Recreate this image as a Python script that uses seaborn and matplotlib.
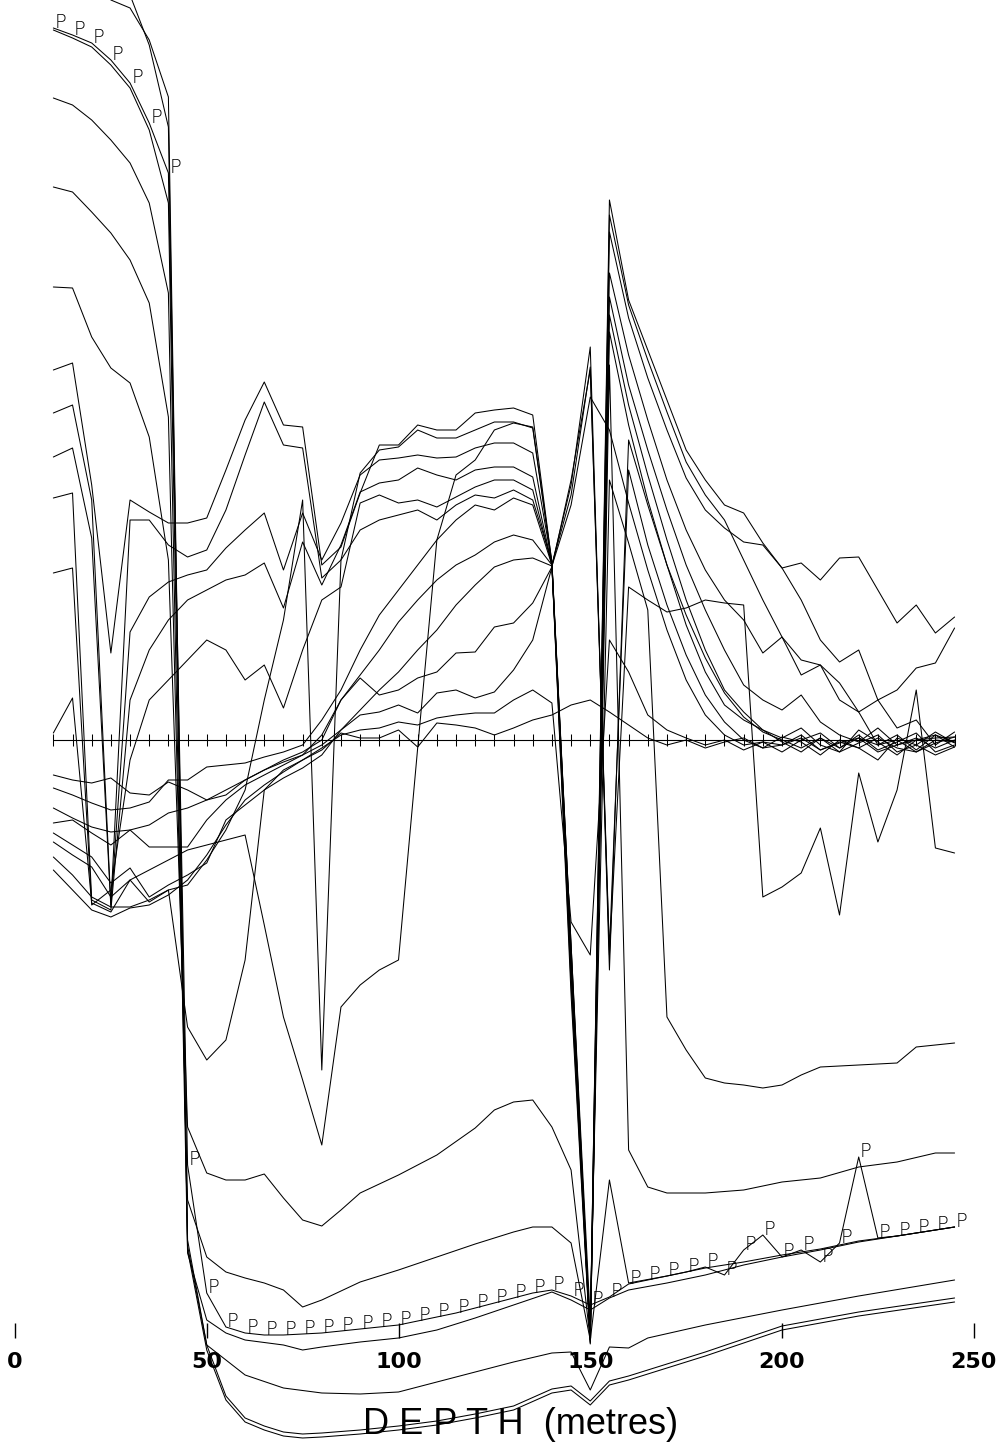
import matplotlib
matplotlib.use("Agg")
import matplotlib.pyplot as plt
import pandas as pd
import seaborn as sns

# Sampling depths (metres) shared by the fully sampled profiles
depth_full = list(range(10, 250, 5))

# Profiles that collapse below the 45 m level (each with its own depth list)
c01_depth = [15, 20, 25, 30, 35, 40, 45, 50, 55, 60, 65, 70, 75, 80, 90, 100, 110, 120, 130,
             140, 145, 150, 155, 160, 180, 200, 220, 245]
c01_value = [860, 780, 740, 732, 700, 643, -510, -610, -660, -682, -690, -696, -698, -697, -694,
             -690, -685, -678, -670, -653, -650, -665, -645, -640, -616, -590, -576, -562]

c02_depth = [20, 25, 30, 35, 40, 45, 50, 55, 60, 65, 70, 75, 80, 90, 100, 110, 120, 130, 140,
             145, 150, 155, 160, 180, 200, 220, 245]
c02_value = [890, 800, 745, 695, 613, -506, -605, -656, -678, -686, -692, -694, -693, -690, -686,
             -681, -674, -666, -649, -646, -661, -641, -636, -612, -586, -572, -558]

# Profile marked with "P" at every sample
p_value = [712, 705, 697, 680, 657, 617, 567, -425, -553, -587, -593, -595, -595, -594, -593,
           -591, -589, -587, -585, -581, -577, -573, -568, -563, -558, -553, -550, -556, -565,
           -557, -544, -540, -536, -532, -527, -535, -510, -495, -517, -510, -522, -503, -417,
           -498, -496, -493, -490, -487]

c03_depth = [10, 15, 20, 25, 30, 35, 40, 45, 50, 55, 60, 70, 80, 90, 100, 110, 120, 130, 140,
             145, 150, 155, 160, 165, 180, 200, 220, 245]
c03_value = [710, 702, 693, 675, 652, 610, 537, -500, -605, -620, -635, -648, -653, -654, -652,
             -642, -632, -622, -613, -612, -650, -607, -608, -598, -585, -570, -556, -540]

c04_depth = [10, 15, 20, 25, 30, 35, 40, 45, 50, 55, 60, 70, 75, 80, 90, 100, 110, 120, 130, 140,
             145, 150, 155, 160, 170, 180, 190, 200, 210, 220, 230, 245]
c04_value = [642, 635, 620, 600, 577, 537, 447, -513, -580, -593, -600, -605, -610, -607, -602,
             -598, -590, -578, -565, -552, -560, -570, -558, -550, -543, -535, -525, -517, -510,
             -502, -496, -487]

c05_depth = [10, 15, 20, 25, 30, 35, 40, 45, 50, 55, 60, 65, 70, 75, 80, 90, 100, 110, 120, 130,
             135, 140, 145, 150, 155, 160, 170, 180, 190, 200, 210, 220, 230, 245]
c05_value = [553, 548, 528, 507, 480, 437, 323, -460, -517, -532, -538, -543, -550, -567, -560,
             -542, -530, -517, -504, -492, -487, -487, -503, -600, -440, -543, -536, -528, -522,
             -515, -509, -501, -496, -487]

c06_depth = [10, 15, 20, 25, 30, 35, 40, 45, 50, 55, 60, 65, 70, 75, 80, 85, 90, 100, 110, 120,
             125, 130, 135, 140, 145, 150, 155, 160, 165, 170, 180, 190, 200, 210, 220, 230, 240,
             245]
c06_value = [453, 452, 403, 372, 357, 303, 180, -387, -433, -440, -440, -434, -458, -480, -486,
             -470, -453, -435, -415, -388, -370, -362, -360, -387, -430, -600, 375, -410, -447,
             -453, -453, -450, -442, -438, -427, -422, -413, -413]

# Fully sampled profiles (10-245 m every 5 m)
c07_value = [370, 377, 255, 87, 240, 228, 217, 217, 222, 270, 320, 358, 315, 313, 175, 193, 247,
             295, 295, 315, 310, 310, 327, 330, 332, 325, 177, -210, -595, 540, 440, 390, 340,
             290, 260, 235, 227, 197, 172, 177, 160, 182, 183, 150, 117, 135, 107, 123]
c08_value = [327, 335, 240, -165, 220, 220, 195, 183, 190, 230, 285, 338, 295, 292, 162, 180, 267,
             290, 293, 310, 302, 302, 310, 318, 318, 312, 175, -225, -598, 508, 422, 362, 310,
             262, 230, 212, 198, 195, 172, 140, 100, 78, 90, 40, 50, 72, 77, 112]
c09_value = [283, 292, 202, -167, 108, 143, 158, 165, 170, 192, 210, 227, 170, 227, 180, 217, 265,
             280, 282, 285, 282, 283, 292, 297, 297, 287, 177, -235, -600, 467, 385, 320, 260,
             210, 170, 140, 120, 87, 103, 65, 75, 57, 28, 40, 12, 20, -5, 8]
c10_value = [242, 247, -160, -170, 40, 90, 120, 140, 150, 160, 165, 177, 132, 198, 155, 195, 248,
             257, 260, 272, 265, 260, 270, 273, 273, 263, 175, -245, -602, 443, 355, 290, 230,
             175, 130, 90, 55, 40, 30, 45, 18, 5, -2, 12, -5, 2, -8, 0]
c11_value = [167, 172, -165, -150, -20, 40, 60, 80, 100, 90, 60, 75, 32, 90, 140, 153, 237, 245,
             237, 240, 233, 243, 253, 260, 260, 250, 175, -255, -604, 408, 315, 240, 175, 115, 68,
             35, 20, 10, -2, -12, 2, -8, 5, -10, -2, 7, -12, -5]
c12_value = [-48, -55, -63, -70, -68, -62, -40, -40, -27, -25, -23, -17, -12, -5, 20, 50, 90, 125,
             150, 175, 200, 220, 235, 230, 242, 235, 175, 255, 393, -230, 300, 235, 175, 125, 82,
             47, 23, 8, 0, -8, 2, -12, -3, 5, -12, -5, 8, -3]
c13_value = [-35, -40, -43, -38, -53, -55, -42, -50, -60, -55, -40, -30, -20, -12, 0, 40, 65, 90,
             118, 140, 160, 175, 185, 198, 205, 200, 175, 245, 373, -210, 270, 195, 135, 85, 45,
             18, 0, -8, 3, -2, -15, 0, -8, -20, 2, -5, -15, -7]
c14_value = [-68, -78, -87, -92, -90, -85, -73, -68, -60, -50, -40, -30, -22, -15, -5, 10, 30, 50,
             68, 90, 110, 135, 155, 173, 180, 182, 174, 235, 343, 310, 237, 170, 110, 60, 25, 5,
             -5, -2, -12, 0, 7, -8, 2, -5, 0, -12, -3, 3]
c15_value = [-83, -80, -93, -105, -90, -107, -107, -107, -80, -60, -45, -35, -25, -15, 5, 40, 62,
             45, 50, 62, 68, 87, 88, 113, 117, 137, 173, -205, -580, 260, 197, 130, -277, -310,
             -338, -343, -345, -348, -345, -335, -327, -326, -325, -324, -323, -307, -305, -303]
c16_value = [-93, -105, -117, -143, -128, -157, -145, -135, -123, -80, -65, -50, -38, -28, -15, 10,
             25, 28, 35, 27, 47, 50, 42, 48, 70, 100, 173, 260, 370, -215, 153, 140, 128, 132,
             140, 137, 135, -157, -147, -133, -88, -175, -33, -102, -50, 50, -108, -113]
c17_value = [-102, -115, -127, -157, -140, -162, -150, -287, -320, -300, -220, -50, -30, -20, -10,
             7, 2, 2, 10, -7, 17, 15, 12, 5, 12, 20, 25, 35, 40, 28, 15, 2, -5, 0, -8, -2, 2, -8,
             -5, 2, -10, -3, 2, -12, -5, 0, 5, -2]
c18_value = [-117, -135, -157, -167, -167, -160, -150, -145, -120, -90, -50, 40, 120, 240, -330,
             180, 210, 220, 225, 230, 220, 235, 245, 242, 250, 240, 178, -220, -603, 425, 335, 265,
             200, 140, 90, 50, 28, 10, 2, 12, -5, -12, 10, -2, -15, 0, 2, 3]
c19_value = [-130, -150, -170, -177, -168, -165, -155, -140, -115, -85, -60, -45, -32, -20, -8, 5,
             10, 12, 18, 15, 22, 25, 27, 27, 40, 50, 37, -182, -215, 100, 68, 25, 10, 2, -5, 0,
             -10, -2, -5, 5, -10, -2, -8, 2, -8, -12, 0, -2]
c20_value = [7, 42, -163, -172, -140, -130, -120, -110, -105, -100, -95, -185, -277, -340, -405,
             -267, -245, -230, -220, -8, 200, 265, 280, 310, 317, 313, 178, -205, -596, 525, 435,
             380, 328, 278, 245, 220, 180, 140, 103, 80, 75, 40, 28, -5, 5, -10, 5, -7]

# Reference axis annotations
zero_ticks = list(range(10, 250, 5))
depth_ticks = [0, 50, 100, 150, 200, 250]
axis_title = "D E P T H  (metres)"

profiles = {
    "c01": (c01_depth, c01_value), "c02": (c02_depth, c02_value),
    "P": (depth_full, p_value), "c03": (c03_depth, c03_value),
    "c04": (c04_depth, c04_value), "c05": (c05_depth, c05_value),
    "c06": (c06_depth, c06_value),
}
for name, vals in [("c07", c07_value), ("c08", c08_value), ("c09", c09_value),
                   ("c10", c10_value), ("c11", c11_value), ("c12", c12_value),
                   ("c13", c13_value), ("c14", c14_value), ("c15", c15_value),
                   ("c16", c16_value), ("c17", c17_value), ("c18", c18_value),
                   ("c19", c19_value), ("c20", c20_value)]:
    profiles[name] = (depth_full, vals)

rows = []
for name, (dep, val) in profiles.items():
    for i, (d, v) in enumerate(zip(dep, val)):
        rows.append({"profile": name, "step": i, "depth": d, "value": v})
df = pd.DataFrame(rows)

sns.set_theme(style="white")
plt.rcParams["font.family"] = ["DejaVu Sans"]

fig = plt.figure(figsize=(9.99, 14.51), dpi=100)
ax = fig.add_axes([0, 0, 1, 1])
sns.lineplot(data=df, x="depth", y="value", units="profile", estimator=None, sort=False,
             color="black", linewidth=0.75, legend=False, ax=ax)

# zero reference line with a tick at every sample depth
ax.plot([zero_ticks[0], zero_ticks[-1]], [0, 0], color="black", linewidth=0.8)
ax.vlines(zero_ticks, -6, 6, color="black", linewidth=0.75)

# "P" marks on the highlighted profile
for d, v in zip(depth_full, p_value):
    ax.annotate("P", (d, v), xytext=(0.8, 0.3), textcoords="offset points",
                ha="left", va="baseline", fontsize=14, color="black",
                family="DejaVu Sans", fontweight="light")

# depth scale
ax.vlines(depth_ticks, -598, -583, color="black", linewidth=1.0)
for d in depth_ticks:
    ax.text(d, -622, str(d), ha="center", va="center", fontsize=16, fontweight="bold",
            color="black")
ax.text(131.7, -684, axis_title, ha="center", va="center", fontsize=26,
        family="Liberation Sans", color="black")

ax.set_xlim(-3.91, 256.58)
ax.set_ylim(-711, 740)
ax.axis("off")

fig.savefig("out.png", dpi=100, facecolor="white")
